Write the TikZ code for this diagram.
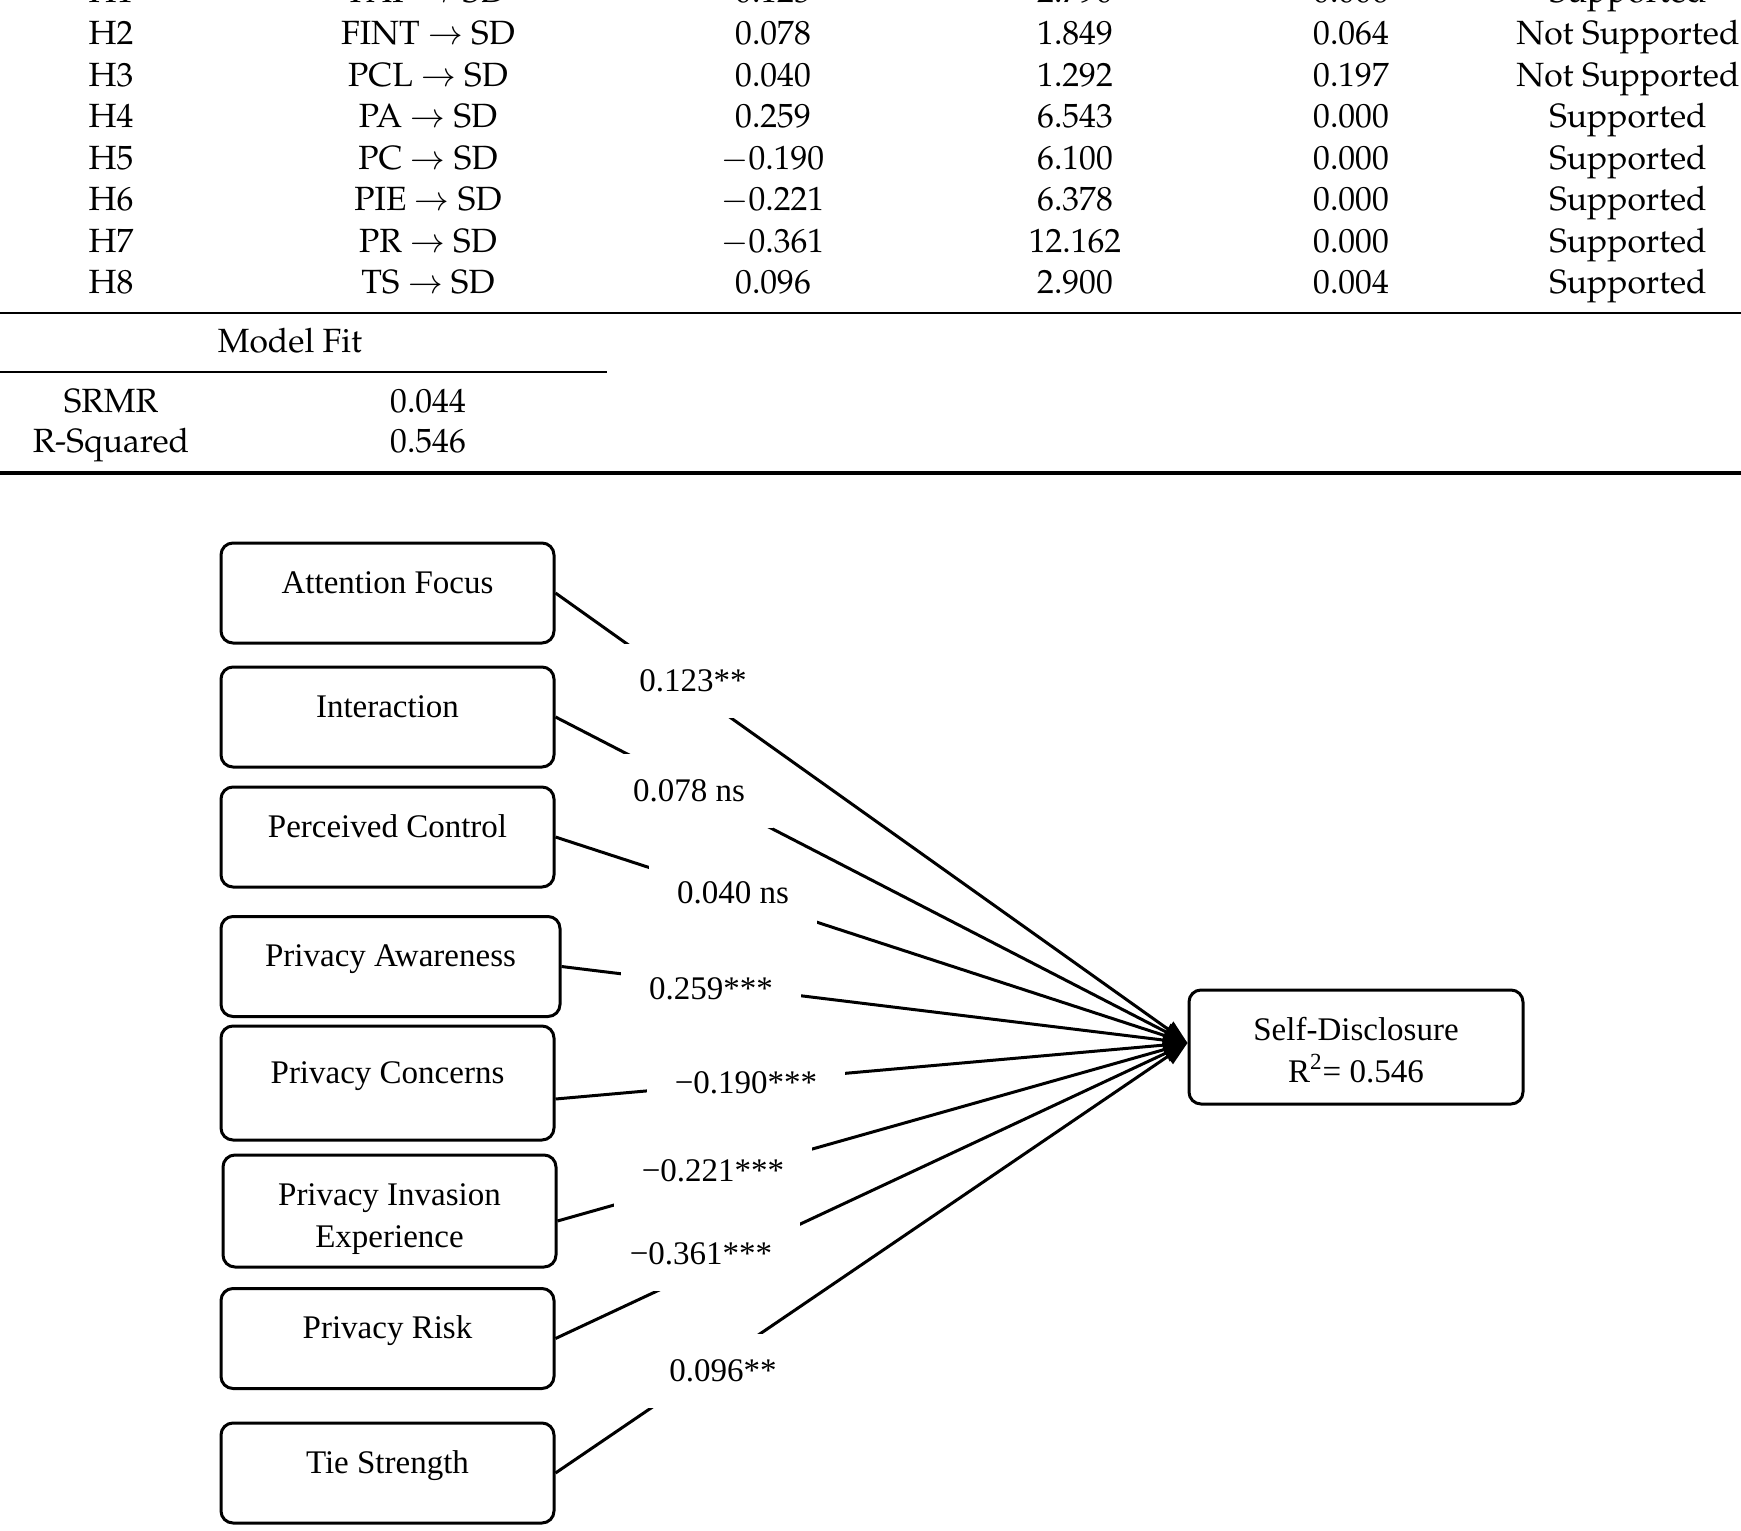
\documentclass[tikz,border=0pt]{standalone}
\usepackage[T1]{fontenc}
\usepackage{fontspec}
\setmainfont{Liberation Serif}
\usepackage{amsmath}
\usetikzlibrary{arrows.meta}
\IfFileExists{t1qpl.fd}{\newcommand\tabfam{\fontencoding{T1}\fontfamily{qpl}\selectfont}}{%
  \IfFileExists{t1ppl.fd}{\newcommand\tabfam{\fontencoding{T1}\fontfamily{ppl}\selectfont}}{%
    \newcommand\tabfam{\rmfamily}}}
\newcommand\tabfont{\tabfam\fontsize{16.8}{20.75}\selectfont}
\newcommand\boxfont{\fontsize{16.5}{21}\selectfont}

\begin{document}
\begin{tikzpicture}[x=0.5pt,y=0.5pt,yscale=-1,
  cell/.style={anchor=base,inner sep=0pt,font=\tabfont},
  factor/.style={draw,line width=1.5pt,rounded corners=6pt,minimum width=166.5pt,minimum height=50pt,inner sep=0pt,font=\boxfont,text height=8pt,text depth=8pt},
  twoline/.style={align=center,text height=,text depth=},
  coef/.style={fill=white,font=\boxfont,inner xsep=14pt,inner ysep=13pt},
  link/.style={line width=1.5pt,-{Triangle[length=12pt,width=9pt]}}]
\useasboundingbox (0,0) rectangle (1741,1531);
\clip (0,0) rectangle (1741,1531);

%Table: path coefficients
\foreach \hyp/\pth/\coef/\tval/\pval/\res [count=\i from 0] in {
  H1/FAF/0.123/2.790/0.006/Supported,
  H2/FINT/0.078/1.849/0.064/Not Supported,
  H3/PCL/0.040/1.292/0.197/Not Supported,
  H4/PA/0.259/6.543/0.000/Supported,
  H5/PC/$-$0.190/6.100/0.000/Supported,
  H6/PIE/$-$0.221/6.378/0.000/Supported,
  H7/PR/$-$0.361/12.162/0.000/Supported,
  H8/TS/0.096/2.900/0.004/Supported}{
  \node[cell] (hyp-\i) at (111,{3+41.5*\i}) {\hyp};
  \node[cell] (pth-\i) at (428,{3+41.5*\i}) {\pth{} $\rightarrow$ SD};
  \node[cell] (coef-\i) at (773,{3+41.5*\i}) {\coef};
  \node[cell] (t-\i) at (1075,{3+41.5*\i}) {\tval};
  \node[cell] (p-\i) at (1351,{3+41.5*\i}) {\pval};
  \node[cell] (res-\i) at (1628,{3+41.5*\i}) {\res};
}
\draw[line width=0.7pt] (0,313) -- (1741,313);

%Table: model fit
\node[cell] (fit) at (290,352) {Model Fit};
\draw[line width=0.7pt] (0,372) -- (607,372);
\node[cell] (srmr) at (111,412) {SRMR};
\node[cell] (srmr-v) at (428,412) {0.044};
\node[cell] (rsq) at (111,452) {R-Squared};
\node[cell] (rsq-v) at (428,452) {0.546};
\draw[line width=2pt] (0,473) -- (1741,473);

%Constructs
\node[factor] (af) at (387.5,593) {Attention Focus};
\node[factor] (fint) at (387.5,717) {Interaction};
\node[factor] (pcl) at (387.5,837) {Perceived Control};
\node[factor,minimum width=169.5pt] (pa) at (390.5,966.5) {Privacy Awareness};
\node[factor,minimum height=57pt] (pc) at (387.5,1083) {Privacy Concerns};
\node[factor,twoline,minimum height=56pt] (pie) at (389.5,1211) {\rule{0pt}{19pt}Privacy Invasion\\Experience};
\node[factor] (pr) at (387.5,1338.5) {Privacy Risk};
\node[factor] (ts) at (387.5,1473) {Tie Strength};
\node[factor,twoline,minimum width=167pt,minimum height=57pt] (sd) at (1356,1047) {\rule{0pt}{14.5pt}Self-Disclosure\\R\textsuperscript{2}= 0.546};
\coordinate (tip) at ([yshift=-2pt]sd.west);

%Paths
\foreach \src in {af,fint,pcl,pa,pr,ts}
  \draw[link] (\src.east) -- (tip);
\draw[link] ([yshift=8pt]pc.east) -- (tip);
\draw[link] ([yshift=5pt]pie.east) -- (tip);

%Coefficients
\node[coef] (c-af) at (693,681) {0.123**};
\node[coef] (c-fint) at (689,791) {0.078 ns};
\node[coef] (c-pcl) at (733,893) {0.040 ns};
\node[coef] (c-pa) at (711,989) {0.259***};
\node[coef] (c-pc) at (746,1083) {−0.190***};
\node[coef] (c-pie) at (713,1171) {−0.221***};
\node[coef] (c-pr) at (701,1254) {−0.361***};
\node[coef] (c-ts) at (723,1371) {0.096**};
\end{tikzpicture}
\end{document}
